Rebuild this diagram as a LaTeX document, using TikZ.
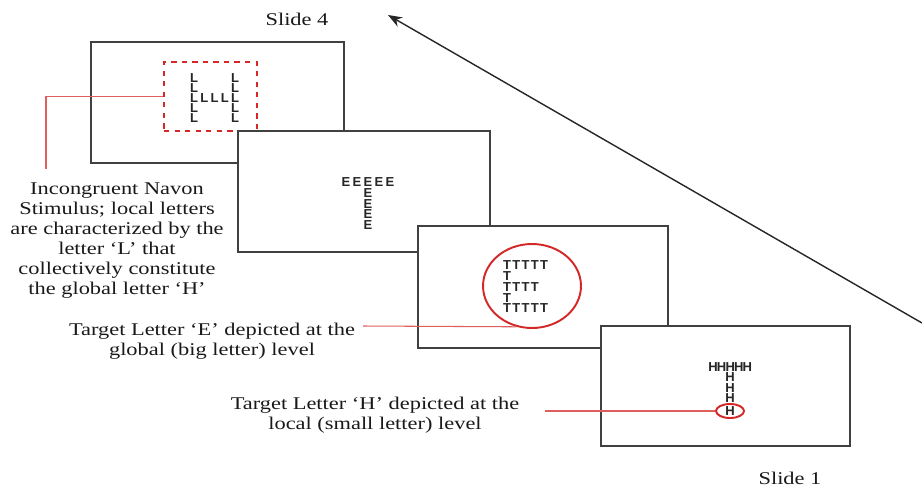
\documentclass[tikz,border=0pt]{standalone}
\usepackage{fontspec}
\setmainfont{Liberation Serif}[FakeStretch=1.25]
\newfontfamily\glyphfont{Liberation Sans}
\usetikzlibrary{arrows.meta,shapes.geometric}
\definecolor{navred}{RGB}{212,40,40}
\begin{document}
\begin{tikzpicture}[x=.02cm,y=-.02cm,>={Stealth[length=8pt,width=6pt]}]
\tikzset{slide/.style={draw=black!75,line width=1pt,fill=white},
glyph/.style={font=\glyphfont\bfseries\fontsize{7.4}{7.4}\selectfont,inner sep=0pt,text=black!85},
note/.style={align=center,font=\fontsize{10.2}{11.45}\selectfont,inner sep=0pt,text=black!90},
hilite/.style={draw=navred,line width=1.1pt,inner sep=0pt},
lead/.style={draw=navred!75,line width=.6pt}}
\useasboundingbox (0,0) rectangle (922,487);
% Slide 4: global H of local L
\draw[slide] (91,42) rectangle (344,163);
\foreach \i in {0,...,4}{\node[glyph] (hla\i) at (194,{78+10*\i}) {L};
 \node[glyph] (hlb\i) at (235,{78+10*\i}) {L};}
\foreach \i in {1,2,3}{\node[glyph] (hlm\i) at ({194+10.25*\i},98) {L};}
\node[hilite,dashed,rectangle,minimum width=1.86cm,minimum height=1.38cm] (lbox) at (210.5,96.5) {};
% Slide 3: global T of local E
\draw[slide] (238,131) rectangle (490,252);
\foreach \i in {0,...,4}{\node[glyph] (et\i) at ({346+11*\i},182) {E};}
\foreach \i in {1,...,4}{\node[glyph] (ec\i) at (368,{182+10.8*\i}) {E};}
% Slide 2: global E of local T
\draw[slide] (418,226) rectangle (668,348);
\foreach \i in {0,...,4}{\node[glyph] (ta\i) at ({507+9.3*\i},265) {T};
 \node[glyph] (te\i) at ({507+9.3*\i},308) {T};}
\foreach \i in {0,...,3}{\node[glyph] (tc\i) at ({507+9.3*\i},287) {T};}
\node[glyph] (tb) at (507,276) {T};
\node[glyph] (td) at (507,298) {T};
\node[hilite,ellipse,minimum width=1.96cm,minimum height=1.68cm] (tcirc) at (532,286) {};
% Slide 1: global T of local H
\draw[slide] (601,326) rectangle (850,446);
\foreach \i in {0,...,4}{\node[glyph] (ht\i) at ({713+8.6*\i},367) {H};}
\foreach \y [count=\i] in {377,388,398,411}{\node[glyph] (hc\i) at (730,\y) {H};}
\node[hilite,ellipse,minimum width=.56cm,minimum height=.28cm] (hcirc) at (730,411) {};
% labels
\node[note] (s4) at (297,19) {Slide 4};
\node[note] (s1) at (790,478) {Slide 1};
\node[note] (incong) at (117,240.5) {Incongruent Navon\\Stimulus; local letters\\are characterized by the\\letter ‘L’ that\\collectively constitute\\the global letter ‘H’};
\node[note] (glob) at (212,341) {Target Letter ‘E’ depicted at the\\global (big letter) level};
\node[note] (loc) at (375,415) {Target Letter ‘H’ depicted at the\\local (small letter) level};
% leads
\coordinate (lbend) at (46,169);
\coordinate (eend) at (363,326);
\coordinate (hend) at (545,411);
\draw[lead] (lbox.west) -| (lbend);
\draw[lead] (eend) -- (tcirc.249);
\draw[lead] (hend) -- (hcirc.west);
% order of slides
\coordinate (arrS) at (922,323);
\coordinate (arrE) at (388,15);
\draw[->,line width=.8pt,draw=black!85] (arrS) -- (arrE);
\end{tikzpicture}
\end{document}
